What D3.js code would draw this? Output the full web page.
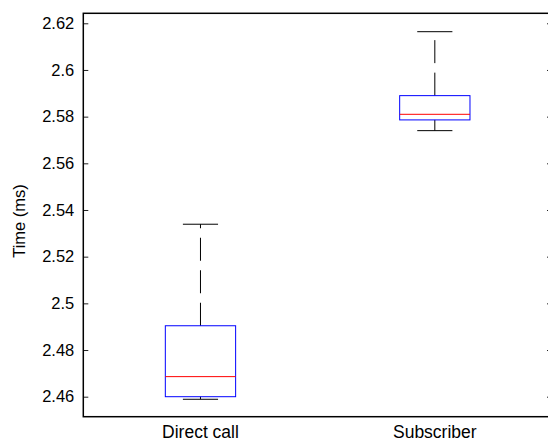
<!doctype html>
<html>
<head>
<meta charset="UTF-8">
<title>Direct call vs Subscriber</title>
<style>
  body { margin: 0; background: #fff; }
  svg text { font-family: "Liberation Sans", Arial, sans-serif; fill: #000; }
</style>
<script src="https://d3js.org/d3.v7.min.js"></script>
</head>
<body>
<svg id="chart" width="548" height="442"></svg>
<script>
// data
var categories   = ["Direct call", "Subscriber"];
var lowWhisker   = [2.4589, 2.5740];
var q1           = [2.4600, 2.5786];
var medians      = [2.4686, 2.5810];
var q3           = [2.4904, 2.5890];
var highWhisker  = [2.5339, 2.6164];
var yTicks       = [2.46, 2.48, 2.5, 2.52, 2.54, 2.56, 2.58, 2.6, 2.62];

var svg = d3.select("#chart");

// axes box (right edge sits just outside the window, like the original)
var plotLeft = 83.3, plotRight = 552, plotTop = 13.3, plotBottom = 416.7;

var x = d3.scaleLinear().domain([0.5, 2.5]).range([plotLeft, plotRight]);
var y = d3.scaleLinear().domain([2.45143, 2.62428]).range([plotBottom, plotTop]);

var boxHalf = 0.15, capHalf = 0.075;

// ticks on left and right, pointing inward
var yAxisL = d3.axisLeft(y).tickValues(yTicks).tickSizeInner(-5).tickSizeOuter(0)
  .tickPadding(9).tickFormat(function(d) { return String(+d.toFixed(2)); });
var gL = svg.append("g").attr("transform", "translate(" + plotLeft + ",0)").call(yAxisL);
gL.select(".domain").remove();
gL.selectAll("text").attr("font-size", "16.5px").attr("font-family", "Liberation Sans, Arial, sans-serif");
gL.selectAll("line").attr("stroke", "#222");

var yAxisR = d3.axisRight(y).tickValues(yTicks).tickSizeInner(-5).tickSizeOuter(0).tickFormat("");
var gR = svg.append("g").attr("transform", "translate(" + plotRight + ",0)").call(yAxisR);
gR.select(".domain").remove();
gR.selectAll("line").attr("stroke", "#222");

// frame
svg.append("rect")
  .attr("x", plotLeft).attr("y", plotTop)
  .attr("width", plotRight - plotLeft).attr("height", plotBottom - plotTop)
  .attr("fill", "none").attr("stroke", "#000").attr("stroke-width", 1.5);

// category labels
svg.selectAll("text.cat")
  .data(categories)
  .enter().append("text")
  .attr("class", "cat")
  .attr("x", function(d, i) { return x(i + 1); })
  .attr("y", 437.5)
  .attr("text-anchor", "middle")
  .attr("font-size", "17.5px")
  .text(function(d) { return d; });

// y label
svg.append("text")
  .attr("transform", "translate(24.5," + 221 + ") rotate(-90)")
  .attr("text-anchor", "middle")
  .attr("font-size", "16.5px")
  .text("Time (ms)");

var idx = d3.range(categories.length);
var g = svg.append("g");

// whiskers (dashed, starting at the box)
g.selectAll("line.wup").data(idx).enter().append("line")
  .attr("x1", function(i) { return x(i + 1); }).attr("x2", function(i) { return x(i + 1); })
  .attr("y1", function(i) { return y(q3[i]); }).attr("y2", function(i) { return y(highWhisker[i]); })
  .attr("stroke", "#000").attr("stroke-width", 1).attr("stroke-dasharray", "23,9.5");
g.selectAll("line.wdn").data(idx).enter().append("line")
  .attr("x1", function(i) { return x(i + 1); }).attr("x2", function(i) { return x(i + 1); })
  .attr("y1", function(i) { return y(q1[i]); }).attr("y2", function(i) { return y(lowWhisker[i]); })
  .attr("stroke", "#000").attr("stroke-width", 1).attr("stroke-dasharray", "23,9.5");

// caps
[highWhisker, lowWhisker].forEach(function(arr) {
  g.selectAll(null).data(idx).enter().append("line")
    .attr("x1", function(i) { return x(i + 1 - capHalf); })
    .attr("x2", function(i) { return x(i + 1 + capHalf); })
    .attr("y1", function(i) { return y(arr[i]); })
    .attr("y2", function(i) { return y(arr[i]); })
    .attr("stroke", "#000").attr("stroke-width", 1);
});

// boxes
g.selectAll("rect.box").data(idx).enter().append("rect")
  .attr("class", "box")
  .attr("x", function(i) { return x(i + 1 - boxHalf); })
  .attr("width", function(i) { return x(i + 1 + boxHalf) - x(i + 1 - boxHalf); })
  .attr("y", function(i) { return y(q3[i]); })
  .attr("height", function(i) { return y(q1[i]) - y(q3[i]); })
  .attr("fill", "none").attr("stroke", "#0000ff").attr("stroke-width", 1);

// medians
g.selectAll("line.med").data(idx).enter().append("line")
  .attr("x1", function(i) { return x(i + 1 - boxHalf); })
  .attr("x2", function(i) { return x(i + 1 + boxHalf); })
  .attr("y1", function(i) { return y(medians[i]); })
  .attr("y2", function(i) { return y(medians[i]); })
  .attr("stroke", "#ff0000").attr("stroke-width", 1);
</script>
</body>
</html>
